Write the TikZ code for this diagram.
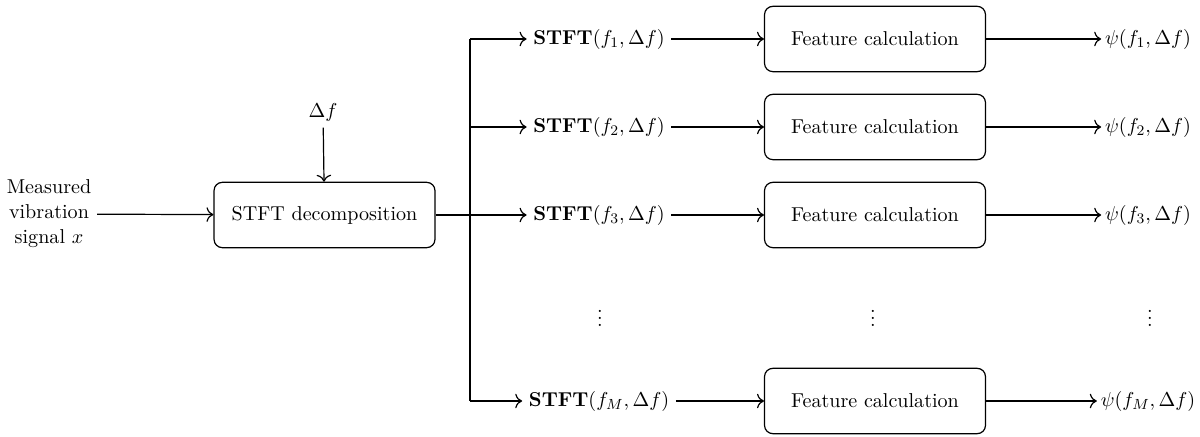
\documentclass[11pt,tikz,border=0pt]{standalone}
\usetikzlibrary{arrows.meta}
\begin{document}
\begin{tikzpicture}[x=0.545pt,y=-0.545pt,
  box/.style={draw, line width=0.65pt, rounded corners=4.5pt, minimum width=120.4pt, minimum height=35.6pt, inner sep=0pt},
  lbl/.style={inner sep=3.5pt},
  conn/.style={-{To[scale=1.25]}, line width=0.65pt},
  bus/.style={line width=0.65pt}]
\useasboundingbox (0,0) rectangle (1200,437);
\node[align=center, inner sep=3pt] (in) at (49,214) {Measured\\vibration\\signal $x$};
\node[box] (dec) at (324.5,215) {STFT decomposition};
\node[lbl] (df) at (323,112) {$\Delta f$};
\draw[conn] (in) -- (dec);
\draw[conn] (df) -- (dec);
\coordinate (b1) at (470,39);
\coordinate (b2) at (470,127);
\coordinate (bM) at (470,401);
\draw[bus] (b1) -- (bM);
\foreach \i/\y/\s in {1/39/1, 2/127/2, 3/215/3, M/401/M} {
  \node[lbl] (s\i) at (599,\y) {$\mathbf{STFT}(f_{\s},\Delta f)$};
  \node[box] (f\i) at (875,\y) {Feature calculation};
  \node[lbl, inner sep=2pt] (p\i) at (1148,\y) {$\psi(f_{\s},\Delta f)$};
  \draw[conn] (s\i) -- (f\i);
  \draw[conn] (f\i) -- (p\i);
}
\draw[conn] (b1) -- (s1);
\draw[conn] (b2) -- (s2);
\draw[conn] (dec) -- (s3);
\draw[conn] (bM) -- (sM);
\node[inner sep=0pt] (d1) at (600,313) {$\vdots$};
\node[inner sep=0pt] (d2) at (873,313) {$\vdots$};
\node[inner sep=0pt] (d3) at (1150,313) {$\vdots$};
\end{tikzpicture}
\end{document}
